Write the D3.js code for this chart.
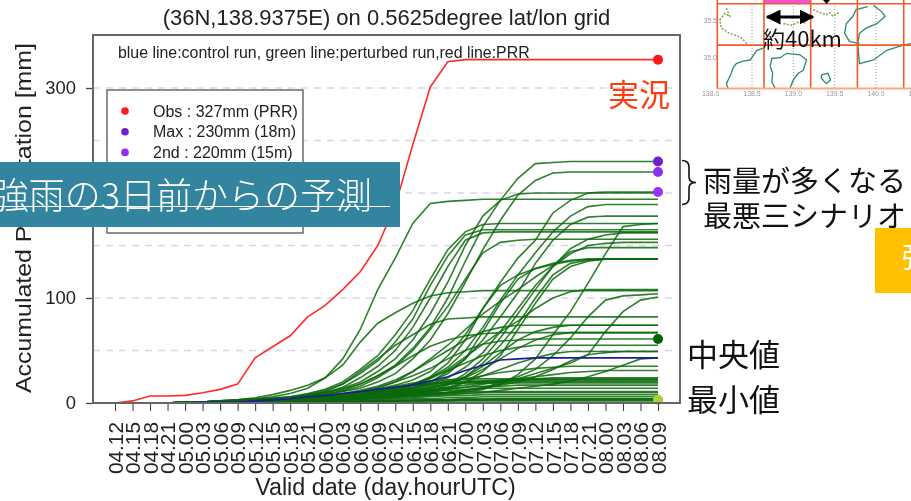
<!DOCTYPE html>
<html>
<head>
<meta charset="utf-8">
<script src="https://d3js.org/d3.v7.min.js"></script>
<style>
  html, body { margin: 0; padding: 0; background: #fff; overflow: hidden; }
  svg { display: block; }
  text { font-family: "Liberation Sans", sans-serif; fill: #222; }
  .jp { font-family: "Noto Sans CJK JP", sans-serif; fill: #111; }
</style>
</head>
<body>
<div id="chart"></div>
<script>
const validDates = ["04.12","04.15","04.18","04.21","05.00","05.03","05.06","05.09","05.12","05.15","05.18","05.21",
  "06.00","06.03","06.06","06.09","06.12","06.15","06.18","06.21","07.00","07.03","07.06","07.09","07.12","07.15","07.18","07.21",
  "08.00","08.03","08.06","08.09"];
const yTicks = [0, 100, 200, 300];
const gridLines = [50, 100, 150, 200, 250, 300];

const observed = [0,2,6.6,6.6,7.3,9.8,13,18,43,53.6,64,82,93,108,125,150,188,246,301,325,327,327,327,327,327,327,327,327,327,327,327,327];
const controlRun = [0,0,0,0,0,1,1,1,2,3,4,6,7,9,11,13,15,17,21,25,31,36,41,42,43,43,43,43,43,43,43,43];
const perturbedRuns = [
  [0,0,0,0,1,1,2,3,4,5,6,8,10,13,18,26,36,52,72,100,135,168,193,214,228,229,230,230,230,230,230,230],
  [0,0,0,0,1,1,2,2,3,4,5,7,9,11,14,20,28,42,60,85,115,146,174,198,212,219,220,220,220,220,220,220],
  [0,0,0,0,0,1,1,2,2,3,4,5,6,8,10,13,17,22,30,45,65,90,115,138,155,181,193,200,201,201,201,201],
  [0,0,0,0,1,1,1,2,3,3,4,6,10,14,20,30,42,60,85,115,150,178,193,199,200,200,200,200,200,200,200,200],
  [0,0,0,0,1,1,2,3,4,6,9,14,24,42,70,108,138,171,190,192,193,194,194,194,194,194,194,194,194,194,194,194],
  [0,0,0,0,0,1,1,2,2,3,4,5,6,7,9,11,14,18,24,34,50,72,98,122,143,163,178,187,189,189,189,189],
  [0,0,0,0,0,1,1,1,2,3,3,4,5,6,8,10,12,15,20,30,42,60,82,105,133,155,170,177,178,178,178,178],
  [0,0,0,0,0,0,1,1,1,2,2,3,3,4,5,6,7,8,9,10,10,13,18,27,42,65,87,114,142,168,170,171],
  [0,0,0,0,1,1,2,2,3,4,6,9,13,20,32,45,65,88,118,146,163,170,171,171,171,171,171,171,171,171,171,171],
  [0,0,0,0,1,1,2,2,3,4,5,8,12,18,28,40,58,80,112,140,160,165,165,165,165,165,165,165,165,165,165,165],
  [0,0,0,0,1,1,2,2,3,4,5,7,10,15,24,35,50,72,100,130,155,162,163,163,163,163,163,163,163,163,163,163],
  [0,0,0,0,0,1,1,1,2,2,3,4,4,5,6,7,9,12,14,18,28,42,62,85,108,130,147,156,160,162,162,162],
  [0,0,0,0,1,1,1,2,3,3,4,6,8,11,16,24,35,50,70,92,118,143,153,155,156,156,156,156,156,156,156,156],
  [0,0,0,0,0,1,1,1,2,2,3,4,5,6,7,9,11,14,18,24,34,48,68,90,112,130,142,150,152,153,153,153],
  [0,0,0,0,0,1,1,2,2,3,3,5,6,8,10,14,20,30,42,55,70,85,97,108,120,131,144,148,148,148,148,148],
  [0,0,0,0,0,1,1,1,2,2,3,4,5,6,8,10,12,17,25,38,60,90,112,122,128,132,135,137,137,137,137,137],
  [0,0,0,0,0,1,1,1,2,2,3,3,4,5,6,8,10,14,20,28,42,68,95,118,128,133,136,137,137,137,137,137],
  [0,0,0,0,0,0,1,1,1,2,2,3,3,4,5,6,7,9,12,17,25,38,55,75,100,122,133,136,137,137,137,137],
  [0,0,0,0,0,0,1,1,1,2,2,3,3,4,4,5,6,8,10,13,20,30,45,70,95,118,130,135,137,137,137,137],
  [0,0,0,0,1,1,2,3,5,8,12,17,24,36,58,76,86,95,102,105,106,107,107,107,107,107,107,107,107,107,107,107],
  [0,0,0,0,0,1,1,1,2,2,3,4,5,6,8,10,13,17,23,32,44,56,68,78,90,100,106,108,108,108,108,108],
  [0,0,0,0,0,0,1,1,1,2,2,3,3,4,5,6,7,8,9,10,12,14,20,25,32,45,62,82,98,102,103,104],
  [0,0,0,0,0,0,1,1,1,1,2,2,3,3,4,5,6,7,8,10,12,15,18,23,28,33,38,46,68,87,98,101],
  [0,0,0,0,1,1,2,2,3,4,5,7,11,18,30,42,55,65,75,80,81,82,82,82,82,82,82,82,82,82,82,82],
  [0,0,0,0,0,1,1,1,2,2,3,4,5,6,8,10,12,15,18,21,25,35,48,60,68,72,74,74,74,74,74,74],
  [0,0,0,0,0,1,1,2,2,3,4,5,7,9,12,16,22,30,40,50,60,68,72,74,74,74,74,74,74,74,74,74],
  [0,0,0,0,1,1,1,2,3,4,5,6,8,12,18,26,35,45,54,60,64,66,67,67,67,67,67,67,67,67,67,67],
  [0,0,0,0,0,1,1,1,2,2,3,3,4,5,6,7,9,11,14,18,24,32,42,52,60,65,67,67,67,67,67,67],
  [0,0,0,0,0,1,1,2,2,3,4,5,6,8,11,15,20,26,33,42,50,56,59,60,61,61,61,61,61,61,61,61],
  [0,0,0,0,0,1,1,1,2,2,3,4,5,6,8,11,14,18,24,31,38,45,50,53,55,55,55,55,55,55,55,55],
  [0,0,0,0,0,0,1,1,1,2,2,3,3,4,5,6,8,10,12,15,20,26,32,38,43,47,49,49,49,49,49,49],
  [0,0,0,0,0,0,1,1,1,1,2,2,3,3,4,5,6,7,8,10,12,14,17,20,25,32,40,46,48,49,49,49],
  [0,0,0,0,0,1,1,1,2,2,3,4,5,6,7,9,11,14,17,20,23,26,29,31,33,34,35,35,35,35,35,35],
  [0,0,0,0,0,0,1,1,1,2,2,3,3,4,5,6,7,9,11,13,15,18,20,23,25,27,29,30,31,31,31,31],
  [0,0,0,0,0,0,0,1,1,1,2,2,3,3,4,4,5,6,7,8,9,10,12,14,16,18,21,25,30,36,42,43],
  [0,0,0,0,0,1,1,1,2,2,3,3,4,5,6,7,9,11,13,15,17,19,21,22,23,24,24,24,24,24,24,24],
  [0,0,0,0,0,1,1,2,2,3,4,5,6,8,10,13,16,19,21,22,23,23,23,23,23,23,23,23,23,23,23,23],
  [0,0,0,0,0,0,1,1,1,2,2,3,4,5,6,7,9,12,15,18,20,21,22,22,22,22,22,22,22,22,22,22],
  [0,0,0,0,0,1,1,1,2,3,4,5,6,7,9,11,14,17,19,20,21,21,21,21,21,21,21,21,21,21,21,21],
  [0,0,0,0,0,0,1,1,2,2,3,3,4,5,6,8,10,13,16,18,19,20,20,20,20,20,20,20,20,20,20,20],
  [0,0,0,0,0,1,1,1,2,2,3,4,5,7,9,12,15,17,18,19,19,19,19,19,19,19,19,19,19,19,19,19],
  [0,0,0,0,0,0,1,1,1,2,2,3,3,4,5,6,8,10,12,14,15,16,16,17,17,17,17,17,17,17,17,17],
  [0,0,0,0,0,0,1,1,1,2,2,2,3,3,4,5,7,9,11,12,13,14,14,14,14,14,14,14,14,14,14,14],
  [0,0,0,0,0,1,1,1,2,2,3,3,4,5,6,7,8,9,10,10,11,11,11,11,11,11,11,11,11,11,11,11],
  [0,0,0,0,0,0,1,1,1,1,2,2,3,3,4,5,6,7,8,9,9,10,10,10,10,10,10,10,10,10,10,10],
  [0,0,0,0,0,0,0,1,1,1,1,2,2,3,3,4,4,5,6,7,7,8,8,8,8,8,8,8,8,8,8,8],
  [0,0,0,0,0,0,0,0,1,1,1,1,2,2,2,3,3,4,4,5,5,6,6,6,6,6,6,6,6,6,6,6],
  [0,0,0,0,0,0,0,0,0,1,1,1,1,1,2,2,2,3,3,3,4,4,4,4,4,4,4,4,4,4,4,4],
  [0,0,0,0,0,0,0,0,0,0,1,1,1,1,1,2,2,2,3,3,3,3,4,4,4,4,4,4,4,4,4,4],
  [0,0,0,0,0,0,0,0,0,0,0,1,1,1,1,1,2,2,2,2,3,3,3,3,3,3,3,3,3,3,3,3],
  [0,0,0,0,0,0,0,0,0,0,0,0,0,1,1,1,1,1,2,2,2,2,2,2,2,2,2,2,2,2,2,2]
];

const endDotValues = [327, 230, 220, 201, 61, 3];
const endDotColors = ["#ff1a1a", "#7420c8", "#9030ee", "#9b30ff", "#006400", "#a6d23c"];
const legendLabels = ["Obs : 327mm (PRR)", "Max : 230mm (18m)", "2nd : 220mm (15m)"];
const legendColors = ["#ff1a1a", "#7420c8", "#9030ee"];

// inset map, lon/lat
const mapGridLon = [138.08, 138.645, 139.21, 139.775, 140.335];
const mapGridLat = [35.72, 35.16];
const mapLonLabels = ["138.0", "138.5", "139.0", "139.5", "140.0", "140.5"];
const mapLatLabels = ["35.5", "35.0"];
const coastOlive = [
  [[138.19,35.66],[138.23,35.55],[138.17,35.59],[138.11,35.50],[138.13,35.39],[138.23,35.32],[138.36,35.27],[138.44,35.18]],
  [[139.24,35.64],[139.32,35.60],[139.40,35.57],[139.44,35.60],[139.48,35.55],[139.56,35.61]],
  [[138.88,35.45],[138.98,35.43],[139.08,35.48],[139.14,35.46],[139.20,35.55]]
];
const coastTeal = [
  [[138.64,35.12],[138.56,35.09],[138.52,35.03],[138.48,34.96],[138.38,34.94],[138.31,34.91],[138.27,34.85],[138.25,34.78],[138.19,34.64],[138.21,34.58]],
  [[138.78,34.58],[138.74,34.66],[138.75,34.78],[138.72,34.88],[138.74,34.98],[138.84,34.99],[138.92,35.05],[139.08,35.03],[139.16,34.96],[139.12,34.82],[139.06,34.78],[139.00,34.69],[138.96,34.58]],
  [[139.34,34.76],[139.42,34.78],[139.45,34.69],[139.40,34.64],[139.34,34.71],[139.34,34.76]],
  [[139.90,35.68],[139.76,35.64],[139.72,35.55],[139.64,35.45],[139.62,35.32],[139.68,35.21],[139.80,35.18]],
  [[139.97,35.70],[140.07,35.61],[140.11,35.55],[140.01,35.45],[139.88,35.39],[139.80,35.32],[139.78,35.18],[139.80,34.91],[139.97,34.96],[140.13,35.09],[140.33,35.16],[140.42,35.18]]
];

const width = 911, height = 501;
const plot = {left: 93, right: 680, top: 35, bottom: 403};

const svg = d3.select("#chart").append("svg")
  .attr("width", width)
  .attr("height", height);

const x = d3.scalePoint().domain(validDates).range([115, 658]);
const y = d3.scaleLinear().domain([0, 350]).range([plot.bottom, plot.top + 0.5]);

// the original is an upscaled bitmap, so soften it a little
const chart = svg.append("g").style("filter", "blur(0.5px)");

chart.append("text")
  .attr("x", 386.5).attr("y", 25)
  .attr("text-anchor", "middle")
  .style("font-size", "22px")
  .text("(36N,138.9375E) on 0.5625degree lat/lon grid");

chart.append("g").selectAll("line")
  .data(gridLines)
  .join("line")
  .attr("x1", plot.left).attr("x2", plot.right - 4)
  .attr("y1", d => y(d)).attr("y2", d => y(d))
  .attr("stroke", "#d8d8e6")
  .attr("stroke-width", 1.3)
  .attr("stroke-dasharray", "7 6");

chart.append("text")
  .attr("x", 118).attr("y", 58)
  .style("font-size", "15.9px")
  .text("blue line:control run, green line:perturbed run,red line:PRR");

// legend
chart.append("rect")
  .attr("x", 107).attr("y", 90).attr("width", 196).attr("height", 143)
  .attr("fill", "#fff").attr("stroke", "#555").attr("stroke-width", 1.3);
chart.append("g").selectAll("circle")
  .data(legendColors)
  .join("circle")
  .attr("cx", 125).attr("cy", (d, i) => 111 + i * 20.7)
  .attr("r", 3.8).attr("fill", d => d);
chart.append("g").selectAll("text")
  .data(legendLabels)
  .join("text")
  .attr("x", 153).attr("y", (d, i) => 116.5 + i * 20.7)
  .style("font-size", "16px")
  .text(d => d);

const line = d3.line()
  .x((d, i) => x(validDates[i]))
  .y(d => y(d));

chart.append("g").selectAll("path")
  .data(perturbedRuns)
  .join("path")
  .attr("d", line)
  .attr("fill", "none")
  .attr("stroke", "#0a6a0a")
  .attr("stroke-opacity", 0.85)
  .attr("stroke-width", 1.6);

chart.append("path").datum(controlRun)
  .attr("d", line)
  .attr("fill", "none").attr("stroke", "#1c1c96").attr("stroke-width", 1.6);

chart.append("path").datum(observed)
  .attr("d", line)
  .attr("fill", "none").attr("stroke", "#ff2a2a").attr("stroke-width", 1.6);

chart.append("g").selectAll("circle")
  .data(endDotValues)
  .join("circle")
  .attr("cx", x("08.09"))
  .attr("cy", d => y(d))
  .attr("r", 5)
  .attr("fill", (d, i) => endDotColors[i]);

// axes and box
const yAxis = chart.append("g")
  .attr("transform", `translate(${plot.left},0)`)
  .call(d3.axisLeft(y).tickValues(yTicks).tickSize(7).tickPadding(10));
yAxis.select(".domain").remove();
yAxis.selectAll("line").attr("stroke", "#444").attr("stroke-width", 1.3);
yAxis.selectAll("text").style("font-size", "18.4px").attr("fill", "#222").style("font-family", "Liberation Sans");

const xAxis = chart.append("g")
  .attr("transform", `translate(0,${plot.bottom})`)
  .call(d3.axisBottom(x).tickSize(8).tickPadding(4));
xAxis.select(".domain").remove();
xAxis.selectAll("line").attr("stroke", "#444").attr("stroke-width", 1.1);
xAxis.selectAll("text")
  .attr("transform", "rotate(-90)")
  .attr("text-anchor", "end")
  .attr("dy", "0.35em")
  .attr("x", -19).attr("y", 0)
  .style("font-size", "20.8px")
  .attr("fill", "#222")
  .style("font-family", "Liberation Sans");

chart.append("rect")
  .attr("x", plot.left).attr("y", plot.top)
  .attr("width", plot.right - plot.left).attr("height", plot.bottom - plot.top)
  .attr("fill", "none").attr("stroke", "#666").attr("stroke-width", 2);

chart.append("text")
  .attr("x", 385.5).attr("y", 495)
  .attr("text-anchor", "middle")
  .style("font-size", "23.3px")
  .text("Valid date (day.hourUTC)");

chart.append("text")
  .attr("transform", "translate(31,218) rotate(-90)")
  .attr("text-anchor", "middle")
  .attr("textLength", 350)
  .attr("lengthAdjust", "spacingAndGlyphs")
  .style("font-size", "22px")
  .text("Accumulated Precipitation [mm]");

// inset map
const mapLon = d3.scaleLinear().domain([138.5, 140]).range([752, 876]);
const mapLat = d3.scaleLinear().domain([35.5, 35]).range([20, 57]);
const map = svg.append("g").style("filter", "blur(0.4px)");
const coast = d3.line().x(d => mapLon(d[0])).y(d => mapLat(d[1]));

map.append("rect")
  .attr("x", mapLon(mapGridLon[1])).attr("y", 0)
  .attr("width", mapLon(mapGridLon[2]) - mapLon(mapGridLon[1])).attr("height", 3)
  .attr("fill", "#ee55dd");

map.append("g").selectAll("line")
  .data(mapLonLabels.slice(1, 5))
  .join("line")
  .attr("x1", d => mapLon(+d)).attr("x2", d => mapLon(+d))
  .attr("y1", 3).attr("y2", 88)
  .attr("stroke", "#999").attr("stroke-dasharray", "1 2");

map.append("g").selectAll("path")
  .data(coastOlive)
  .join("path")
  .attr("d", coast)
  .attr("fill", "none").attr("stroke", "#7f9a3a").attr("stroke-width", 1.4).attr("stroke-dasharray", "2 1.5");
map.append("g").selectAll("path")
  .data(coastTeal)
  .join("path")
  .attr("d", coast)
  .attr("fill", "none").attr("stroke", "#2f8a70").attr("stroke-width", 1.3);

map.append("g").selectAll("line")
  .data(mapGridLon)
  .join("line")
  .attr("x1", d => mapLon(d)).attr("x2", d => mapLon(d))
  .attr("y1", 0).attr("y2", 89)
  .attr("stroke", "#f05a28").attr("stroke-width", 1.6);
map.append("g").selectAll("line")
  .data(mapGridLat)
  .join("line")
  .attr("x1", mapLon(mapGridLon[0])).attr("x2", width)
  .attr("y1", d => mapLat(d)).attr("y2", d => mapLat(d))
  .attr("stroke", "#f05a28").attr("stroke-width", 1.6);
map.append("line")
  .attr("x1", mapLon(mapGridLon[0])).attr("x2", width)
  .attr("y1", 88.5).attr("y2", 88.5)
  .attr("stroke", "#ffa888").attr("stroke-width", 1.8);

map.append("g").selectAll("text")
  .data(mapLonLabels)
  .join("text")
  .attr("x", d => mapLon(+d)).attr("y", 96)
  .attr("text-anchor", "middle")
  .style("font-size", "7px").style("fill", "#999")
  .text(d => d);
map.append("g").selectAll("text")
  .data(mapLatLabels)
  .join("text")
  .attr("x", 717).attr("y", d => mapLat(+d) + 2.5)
  .attr("text-anchor", "end")
  .style("font-size", "7px").style("fill", "#999")
  .text(d => d);

// overlaid slide annotations
svg.append("defs").append("marker")
  .attr("id", "head")
  .attr("viewBox", "0 0 10 10").attr("refX", 9).attr("refY", 5)
  .attr("markerWidth", 15).attr("markerHeight", 15).attr("markerUnits", "userSpaceOnUse")
  .attr("orient", "auto-start-reverse")
  .append("path").attr("d", "M0,0L10,5L0,10Z").attr("fill", "#000");
svg.append("line")
  .attr("x1", 767).attr("x2", 813).attr("y1", 17).attr("y2", 17)
  .attr("stroke", "#000").attr("stroke-width", 2.8)
  .attr("marker-start", "url(#head)").attr("marker-end", "url(#head)");
svg.append("path").attr("d", "M823,0L826.5,4L830,0Z").attr("fill", "#000");

svg.append("text").attr("class", "jp")
  .attr("x", 763).attr("y", 47)
  .style("font-size", "22px")
  .text("約40km");

svg.append("text").attr("class", "jp")
  .attr("x", 608).attr("y", 106)
  .style("font-size", "31px").style("fill", "#ff3b12")
  .text("実況");

svg.append("text").attr("class", "jp")
  .attr("x", 703).attr("y", 192)
  .style("font-size", "29px")
  .text("雨量が多くなる");
svg.append("text").attr("class", "jp")
  .attr("x", 703).attr("y", 227)
  .style("font-size", "29px")
  .text("最悪三シナリオ");
svg.append("text").attr("class", "jp")
  .attr("x", 687).attr("y", 366)
  .style("font-size", "31px")
  .text("中央値");
svg.append("text").attr("class", "jp")
  .attr("x", 687).attr("y", 411)
  .style("font-size", "31px")
  .text("最小値");

// curly bracket next to the three highest runs
svg.append("path")
  .attr("d", "M682,160.5 Q689,160.5 689,167 L689,177 Q689,182.5 696,182.5 Q689,182.5 689,188 L689,198 Q689,204.5 682,204.5")
  .attr("fill", "none").attr("stroke", "#111").attr("stroke-width", 1.6);

// orange box running off the page
svg.append("rect")
  .attr("x", 875).attr("y", 228).attr("width", 36).attr("height", 65)
  .attr("fill", "#ffc000");
svg.append("text").attr("class", "jp")
  .attr("x", 902).attr("y", 268)
  .style("font-size", "28px").style("fill", "#fff")
  .text("強");

// teal title band over the chart
svg.append("rect")
  .attr("x", 0).attr("y", 162).attr("width", 400).attr("height", 65)
  .attr("fill", "#33849e");
svg.append("text").attr("class", "jp")
  .attr("x", 372).attr("y", 208.5)
  .attr("text-anchor", "end")
  .style("font-size", "36px").style("font-weight", 300).style("fill", "#fff")
  .text("強雨の3日前からの予測");
svg.append("line")
  .attr("x1", 0).attr("x2", 390).attr("y1", 206.5).attr("y2", 206.5)
  .attr("stroke", "#fff").attr("stroke-width", 1);
</script>
</body>
</html>
